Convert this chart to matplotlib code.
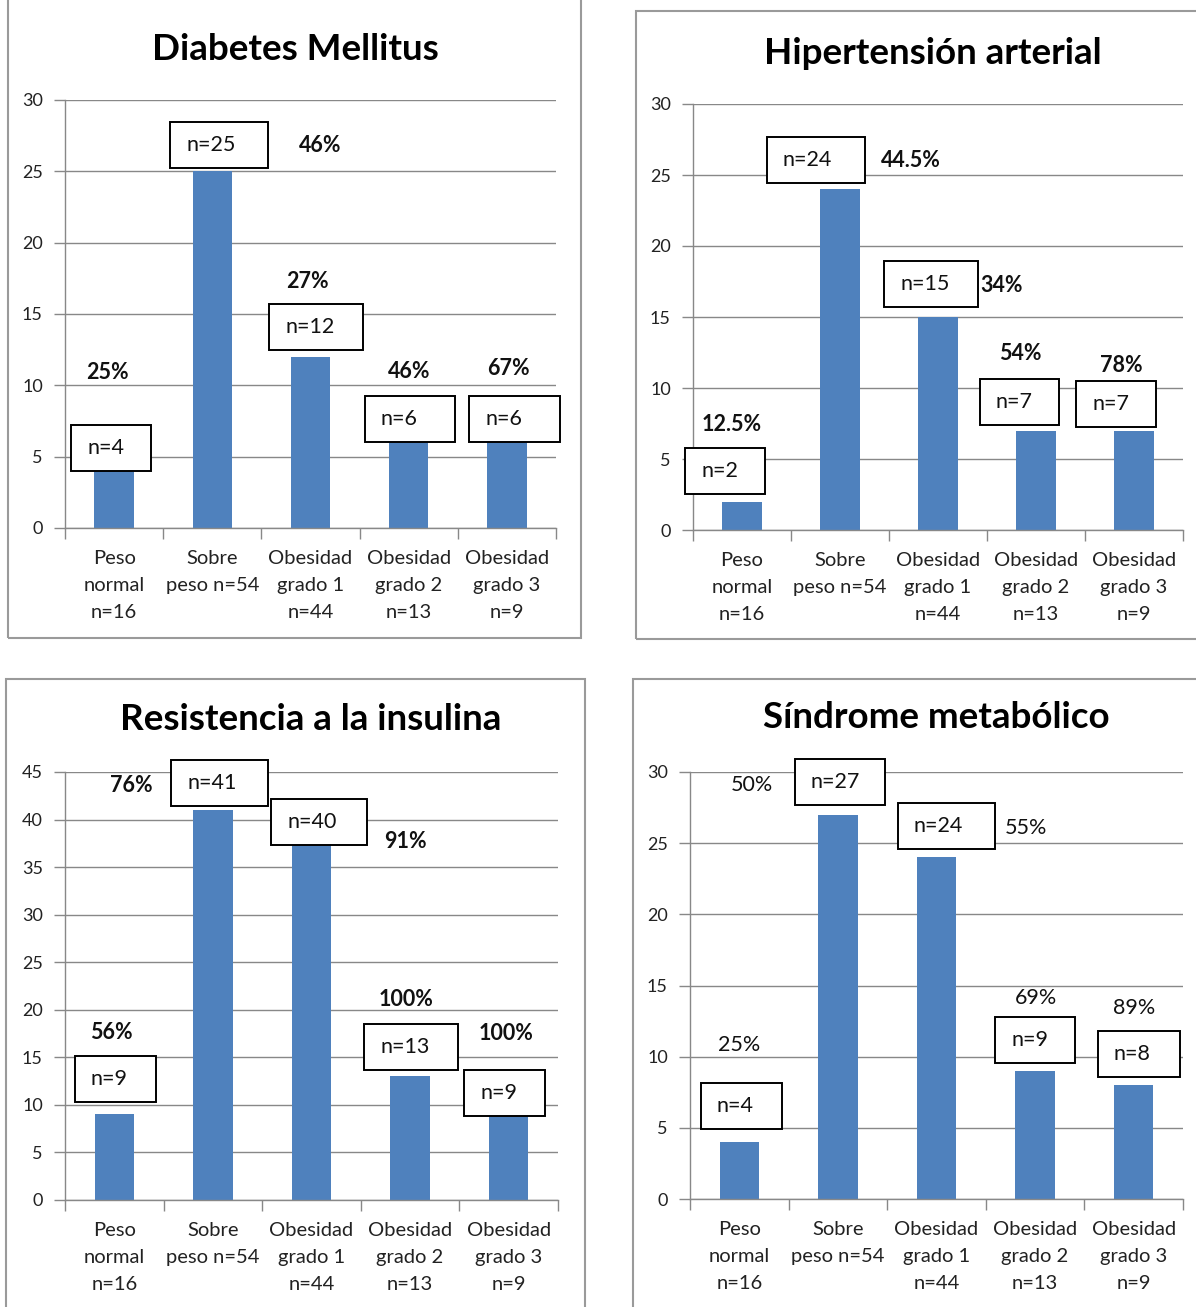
import numpy as np
import matplotlib
matplotlib.use("Agg")
import matplotlib.pyplot as plt
from matplotlib.patches import Rectangle
from matplotlib.transforms import ScaledTranslation

W, H, DPI = 1196, 1307, 100

plt.rcParams["font.family"] = ["Lato", "DejaVu Sans"]

categories = [
    "Peso\nnormal\nn=16",
    "Sobre\npeso n=54",
    "Obesidad\ngrado 1\nn=44",
    "Obesidad\ngrado 2\nn=13",
    "Obesidad\ngrado 3\nn=9",
]

dm_counts = [4, 25, 12, 6, 6]
dm_pct = ["25%", "46%", "27%", "46%", "67%"]

hta_counts = [2, 24, 15, 7, 7]
hta_pct = ["12.5%", "44.5%", "34%", "54%", "78%"]

ri_counts = [9, 41, 40, 13, 9]
ri_pct = ["56%", "76%", "91%", "100%", "100%"]

sm_counts = [4, 27, 24, 9, 8]
sm_pct = ["25%", "50%", "55%", "69%", "89%"]

BLUE = "#4F81BD"
GRID = "#888888"
FRAME = "#9a9a9a"

panels = [
    dict(title="Diabetes Mellitus", counts=dm_counts, pct=dm_pct, ymax=30,
         axes=(65, 100, 556, 528), frame=(8, -5, 581, 638), title_xy=(295, 50),
         boxes=[(-0.03, 5.6, 80), (1.07, 26.85, 98), (2.06, 14.1, 94), (3.01, 7.65, 90), (4.08, 7.65, 91)],
         pct_xy=[(-0.07, 10.9), (2.1, 26.8), (1.97, 17.25), (3.0, 10.95), (4.02, 11.2)],
         bold=True),
    dict(title="Hipertensión arterial", counts=hta_counts, pct=hta_pct, ymax=30,
         axes=(693, 104, 1183, 530), frame=(636, 11, 1205, 639), title_xy=(933, 53),
         boxes=[(-0.17, 4.15, 80), (0.755, 26.05, 98), (1.93, 17.3, 94), (2.83, 9.0, 79), (3.82, 8.9, 80)],
         pct_xy=[(-0.11, 7.45), (1.72, 26.05), (2.65, 17.25), (2.84, 12.4), (3.87, 11.6)],
         bold=True),
    dict(title="Resistencia a la insulina", counts=ri_counts, pct=ri_pct, ymax=45,
         axes=(65, 772, 558, 1200), frame=(6, 679, 585, 1312), title_xy=(311, 720),
         boxes=[(0.01, 12.7, 81), (1.07, 43.8, 97), (2.08, 39.7, 96), (3.01, 16.1, 94), (3.96, 11.25, 81)],
         pct_xy=[(-0.03, 17.6), (0.17, 43.6), (2.95, 37.7), (2.96, 21.1), (3.97, 17.5)],
         bold=True),
    dict(title="Síndrome metabólico", counts=sm_counts, pct=sm_pct, ymax=30,
         axes=(690, 772, 1183, 1199), frame=(633, 679, 1205, 1312), title_xy=(936, 718),
         boxes=[(0.02, 6.5, 81), (1.02, 29.3, 90), (2.1, 26.2, 97), (3.0, 11.2, 80), (4.05, 10.2, 82)],
         pct_xy=[(0.0, 10.8), (0.13, 29.1), (2.91, 26.1), (3.01, 14.1), (4.0, 13.4)],
         bold=False),
]

fig = plt.figure(figsize=(W / DPI, H / DPI), dpi=DPI)
fig.patch.set_facecolor("white")


def fig_rect(l, t, r, b):
    return [l / W, 1 - b / H, (r - l) / W, (b - t) / H]


BOX_H = 46  # pixel height of the count boxes
TEXT_INSET = 16  # pixel gap between box edge and its text

for p in panels:
    fl, ft, fr, fb = p["frame"]
    fig.add_artist(Rectangle((fl / W, 1 - fb / H), (fr - fl) / W, (fb - ft) / H,
                             transform=fig.transFigure, fill=False,
                             ec=FRAME, lw=1.5, zorder=0))
    fig.text(p["title_xy"][0] / W, 1 - p["title_xy"][1] / H, p["title"],
             ha="center", va="center", fontsize=26.5, fontweight="bold", color="black")

    ax = fig.add_axes(fig_rect(*p["axes"]))
    x = np.arange(len(categories))
    ax.bar(x, p["counts"], width=0.4, color=BLUE, zorder=2)

    ax.set_xlim(-0.5, len(categories) - 0.5)
    ax.set_ylim(0, p["ymax"])
    ax.set_yticks(np.arange(0, p["ymax"] + 1, 5))
    ax.yaxis.grid(True, color=GRID, lw=1.0)
    ax.set_axisbelow(True)

    ax.set_xticks(np.arange(-0.5, len(categories), 1.0))
    ax.set_xticklabels([])
    ax.set_xticks(x, minor=True)
    ax.set_xticklabels(categories, minor=True)
    for t in ax.get_xticklabels(minor=True):
        t.set_linespacing(1.72)

    ax.tick_params(axis="x", which="major", length=8, width=1, color=GRID, direction="out")
    ax.tick_params(axis="x", which="minor", length=0, pad=16, labelsize=14.5, labelcolor="#222222")
    ax.tick_params(axis="y", length=8, width=1, color=GRID, direction="out", pad=8,
                   labelsize=13, labelcolor="#222222")

    for s in ("top", "right"):
        ax.spines[s].set_visible(False)
    for s in ("left", "bottom"):
        ax.spines[s].set_color(GRID)
        ax.spines[s].set_linewidth(1.0)

    # count boxes with their labels
    for (cx, cy, wpx), n in zip(p["boxes"], p["counts"]):
        trans = fig.dpi_scale_trans + ScaledTranslation(cx, cy, ax.transData)
        w_in, h_in = wpx / DPI, BOX_H / DPI
        ax.add_patch(Rectangle((-w_in / 2, -h_in / 2), w_in, h_in, transform=trans,
                               fc="white", ec="black", lw=1.4, zorder=5, clip_on=False))
        ax.text(-w_in / 2 + TEXT_INSET / DPI, 0, f"n={n}", transform=trans,
                ha="left", va="center", fontsize=15.5, color="#111111", zorder=6, clip_on=False)

    # percentage labels
    for (px_, py_), lab in zip(p["pct_xy"], p["pct"]):
        ax.text(px_, py_, lab, ha="center", va="center", fontsize=15.5,
                fontweight="bold" if p["bold"] else "normal", color="#111111",
                zorder=6, clip_on=False)

fig.savefig("out.png", dpi=DPI, facecolor="white")
